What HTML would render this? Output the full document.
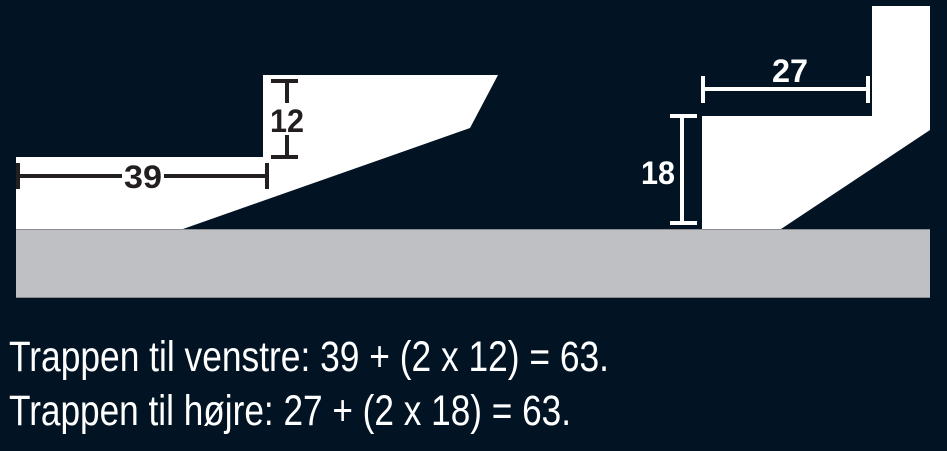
<!DOCTYPE html>
<html><head><meta charset="utf-8"><style>
html,body{margin:0;padding:0;background:#021424;}
svg{display:block}
</style></head><body>
<svg width="947" height="451" viewBox="0 0 947 451" xmlns="http://www.w3.org/2000/svg">
<rect width="947" height="451" fill="#021424"/>
<rect x="16" y="229" width="914" height="69" fill="#bfc0c4"/>
<line x1="16" y1="229.5" x2="930" y2="229.5" stroke="#8a8c90" stroke-width="1"/>
<line x1="16" y1="297.5" x2="930" y2="297.5" stroke="#8a8c90" stroke-width="1"/>
<polygon points="16,157 263,157 263,75 498,75 470,128 183,229 16,229" fill="#fff"/>
<polygon points="872,6 930,6 930,130 781,229 702,229 702,116 872,116" fill="#fff"/>
<g stroke="#231f20" stroke-width="4" fill="none">
<line x1="18" y1="176" x2="122" y2="176"/><line x1="164" y1="176" x2="267" y2="176"/>
<line x1="18" y1="163" x2="18" y2="189"/><line x1="267" y1="163" x2="267" y2="189"/>
<line x1="287" y1="81" x2="287" y2="103"/><line x1="287" y1="135" x2="287" y2="157"/>
<line x1="271" y1="81" x2="298" y2="81"/><line x1="271" y1="157" x2="298" y2="157"/>
</g>
<g font-family="Liberation Sans, sans-serif" font-weight="bold" font-size="32" fill="#231f20" text-anchor="middle">
<text x="143" y="188" textLength="38" lengthAdjust="spacingAndGlyphs">39</text>
<text x="287" y="132" textLength="34" lengthAdjust="spacingAndGlyphs">12</text>
</g>
<g stroke="#fff" stroke-width="4" fill="none">
<line x1="703" y1="89" x2="868" y2="89"/>
<line x1="703" y1="76" x2="703" y2="103"/><line x1="868" y1="76" x2="868" y2="103"/>
<line x1="682" y1="116" x2="682" y2="223"/>
<line x1="670" y1="116" x2="697" y2="116"/><line x1="670" y1="223" x2="697" y2="223"/>
</g>
<g font-family="Liberation Sans, sans-serif" font-weight="bold" font-size="32" fill="#fff" text-anchor="middle">
<text x="790" y="82" textLength="36" lengthAdjust="spacingAndGlyphs">27</text>
<text x="658" y="184" textLength="34" lengthAdjust="spacingAndGlyphs">18</text>
</g>
<g font-family="Liberation Sans, sans-serif" font-size="43" fill="#fff">
<text x="9" y="371" textLength="600" lengthAdjust="spacingAndGlyphs">Trappen til venstre: 39 + (2 x 12) = 63.</text>
<text x="9" y="425" textLength="562" lengthAdjust="spacingAndGlyphs">Trappen til højre: 27 + (2 x 18) = 63.</text>
</g>
</svg>
</body></html>
